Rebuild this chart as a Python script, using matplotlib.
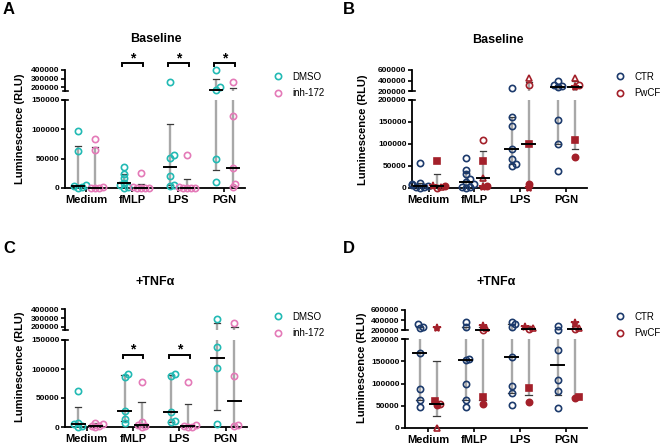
import numpy as np
import matplotlib
matplotlib.use('Agg')
import matplotlib.pyplot as plt
from matplotlib.lines import Line2D
from matplotlib.transforms import IdentityTransform

plt.rcParams['font.family'] = ['Liberation Sans', 'DejaVu Sans']
plt.rcParams['font.weight'] = 'bold'

W, H = 661, 446

groups = ['Medium', 'fMLP', 'LPS', 'PGN']

# Panel A: baseline, DMSO vs inh-172 (RLU)
a_dmso = [[97000, 62600, 5000, 3000, 1500, 800],
          [35000, 24000, 17500, 8000, 5000, 1000, 500],
          [265000, 56000, 51600, 20500, 5000, 4000],
          [395000, 200000, 169000, 49000, 10700]]
a_inh = [[83000, 65500, 1000, 600, 400, 200],
         [25000, 1000, 700, 500, 300, 100],
         [57000, 1000, 800, 500, 300, 200],
         [265000, 123000, 33500, 6300, 1000]]
a_sig = ['fMLP', 'LPS', 'PGN']

# Panel C: +TNFa, DMSO vs inh-172
c_dmso = [[62600, 7400, 5000, 2000, 500],
          [91000, 87000, 27600, 13800, 7400],
          [91000, 88000, 26500, 10000, 8500],
          [285000, 138000, 101000, 5000]]
c_inh = [[7000, 6000, 2000, 1000, 500],
         [77000, 8500, 3000, 1000, 500],
         [77000, 3000, 1500, 800, 300],
         [239000, 88000, 3000, 2000]]
c_sig = ['fMLP', 'LPS']

# Panel B: baseline, CTR vs PwCF
b_ctr = [[56000, 12000, 8000, 6000, 4000, 3000, 2000, 1000],
         [67500, 42000, 31000, 20000, 14000, 8000, 3000, 1500, 500],
         [251000, 162000, 142000, 88600, 65000, 54000, 50000],
         [400000, 314000, 295000, 280000, 155000, 100000, 39000]]
# PwCF donors, one marker each: open circle, square, filled circle, triangle, star
b_pwcf = [[0, 61000, 4500, 3000, 4000],
          [108000, 61000, 5000, 23000, 2000],
          [310000, 100000, 9000, 450000, 0],
          [320000, 109000, 70000, 445000, 270000]]

# Panel D: +TNFa, CTR vs PwCF
d_ctr = [[318000, 259000, 251000, 168000, 87000, 63000, 48000],
         [370000, 271000, 155000, 152000, 100000, 64000, 47000],
         [357000, 318000, 271000, 160000, 95000, 78000, 51000],
         [285000, 206000, 175000, 108000, 83000, 44000]]
d_pwcf = [[54000, 60000, 52000, 0, 240000],
          [210000, 70000, 55000, 250000, 290000],
          [220000, 89000, 58000, 240000, 271000],
          [220000, 70000, 68000, 251000, 338000]]

donor_markers = ['o', 's', 'o', '^', '*']
donor_filled = [False, True, True, False, True]

teal = '#22BAB4'
pink = '#E47AB8'
navy = '#1C3A6C'
red = '#A3202A'
bar_gray = '#A8A8A8'

fig = plt.figure(figsize=(W / 100, H / 100), dpi=100)


def rect(x0, x1, ytop, ybot):
    return [x0 / W, 1 - ybot / H, (x1 - x0) / W, (ybot - ytop) / H]


def make_panel(xs, low_px, up_px, low_lim, up_lim, low_ticks, up_ticks, xlim):
    ax_lo = fig.add_axes(rect(xs[0], xs[1], *low_px))
    ax_up = fig.add_axes(rect(xs[0], xs[1], *up_px))
    for ax in (ax_lo, ax_up):
        ax.set_xlim(xlim)
        ax.patch.set_alpha(0)
        ax.spines[['top', 'right']].set_visible(False)
        ax.spines['left'].set_linewidth(1.3)
        ax.tick_params(axis='y', length=3, width=1.2, pad=1, labelsize=6)
    ax_up.spines['bottom'].set_visible(False)
    ax_up.set_xticks([])
    ax_lo.spines['bottom'].set_linewidth(1.3)
    ax_lo.set_ylim(low_lim)
    ax_up.set_ylim(up_lim)
    ax_lo.set_yticks(low_ticks, [str(t) for t in low_ticks])
    ax_up.set_yticks(up_ticks, [str(t) for t in up_ticks])
    ax_lo.set_xticks(range(len(groups)), groups, fontsize=8)
    ax_lo.tick_params(axis='x', length=3, width=1.2, pad=2)
    # little stubs at the ends of the broken axis
    x0 = xs[0]
    for yy in (low_px[0], up_px[1]):
        fig.add_artist(Line2D([x0 - 2.5, x0 + 3], [H - yy, H - yy], color='black',
                              lw=1.2, transform=IdentityTransform()))
    return ax_lo, ax_up


def swarm(pick, xc, vals, ppu):
    placed = []
    offs = np.zeros(len(vals))
    for i in np.argsort(vals):
        y = pick(vals[i]).transData.transform((xc, vals[i]))[1]
        dx = 0.0
        for k in [0, 1, -1, 2, -2, 3, -3, 4, -4]:
            dx = k * 1.9
            if all((dx - px) ** 2 + (y - py) ** 2 >= 3.6 ** 2 for px, py in placed):
                break
        placed.append((dx, y))
        offs[i] = dx / ppu
    return offs


def draw_series(ax_lo, ax_up, split, xc, vals, color, markers=None, filled=None):
    vals = np.asarray(vals, dtype=float)
    n = len(vals)
    markers = markers or ['o'] * n
    filled = filled or [False] * n

    def pick(v):
        return ax_up if v > split else ax_lo

    q1, med, q3 = np.percentile(vals, [25, 50, 75], method='weibull')
    for ax in (ax_lo, ax_up):
        ax.plot([xc, xc], [q1, q3], color=bar_gray, lw=1.7, zorder=1,
                solid_capstyle='butt')
    for v in (q1, q3):
        pick(v).plot([xc - 0.07, xc + 0.07], [v, v], color='#3a3a3a', lw=0.9,
                     zorder=2, clip_on=False)
    pick(med).plot([xc - 0.14, xc + 0.14], [med, med], color='black', lw=1.4,
                   zorder=4, clip_on=False)

    ppu = ax_lo.transData.transform((1, 0))[0] - ax_lo.transData.transform((0, 0))[0]
    offs = swarm(pick, xc, vals, ppu)
    for v, dx, m, f in zip(vals, offs, markers, filled):
        ms = 6 if m == '*' else (4.2 if m in ('s', '^') else 4.5)
        pick(v).plot(xc + dx, v, marker=m, ms=ms, mec=color,
                     mfc=color if f else 'none', mew=1.2, ls='none',
                     clip_on=False, zorder=3)


def brackets(ax, sig, y, drop, star_y, half=0.22):
    for g in sig:
        i = groups.index(g)
        ax.plot([i - half, i - half, i + half, i + half], [y - drop, y, y, y - drop],
                color='black', lw=1.4, clip_on=False, solid_joinstyle='miter')
        ax.text(i, star_y, '*', ha='center', va='baseline', fontsize=10,
                clip_on=False)


def legend(x, y, colors, labels):
    handles = [Line2D([], [], marker='o', ls='none', mec=c, mfc='none', mew=1.2, ms=4.5)
               for c in colors]
    fig.legend(handles, labels, loc='center left', bbox_to_anchor=(x / W, 1 - y / H),
               frameon=False, prop={'size': 7, 'weight': 'normal'}, handlelength=1.0,
               handletextpad=1.0, labelspacing=0.65, borderpad=0, borderaxespad=0)


def labels(letter, lx, ly, title, tx, ty, ylx, yly):
    fig.text(lx / W, 1 - ly / H, letter, fontsize=12, ha='left', va='center')
    fig.text(tx / W, 1 - ty / H, title, fontsize=9, ha='center', va='center')
    fig.text(ylx / W, 1 - yly / H, 'Luminescence (RLU)', fontsize=8, rotation=90,
             ha='center', va='center')


off = 0.185

# ---- A ----
ax_lo, ax_up = make_panel((65, 245), (100, 188), (70, 90.7), (0, 150000), (160000, 400000),
                          [0, 50000, 100000, 150000], [200000, 300000, 400000], (-0.467, 3.446))
for i in range(4):
    draw_series(ax_lo, ax_up, 155000, i - off, a_dmso[i], teal)
    draw_series(ax_lo, ax_up, 155000, i + off, a_inh[i], pink)
brackets(ax_up, a_sig, 481000, 30000, 492000)
legend(273, 85, [teal, pink], ['DMSO', 'inh-172'])
labels('A', 3, 9, 'Baseline', 156, 39, 20, 129)

# ---- B ----
ax_lo, ax_up = make_panel((412, 587), (100, 188), (70, 91), (0, 200000), (200000, 600000),
                          [0, 50000, 100000, 150000, 200000], [200000, 400000, 600000],
                          (-0.36, 3.45))
for i in range(4):
    draw_series(ax_lo, ax_up, 200000, i - off, b_ctr[i], navy)
    draw_series(ax_lo, ax_up, 200000, i + off, b_pwcf[i], red, donor_markers, donor_filled)
legend(615, 85, [navy, red], ['CTR', 'PwCF'])
labels('B', 343, 9, 'Baseline', 498, 40, 363, 130)

# ---- C ----
ax_lo, ax_up = make_panel((65, 247), (340, 427), (309.3, 330.2), (0, 150000), (160000, 400000),
                          [0, 50000, 100000, 150000], [200000, 300000, 400000], (-0.47, 3.46))
for i in range(4):
    draw_series(ax_lo, ax_up, 155000, i - off, c_dmso[i], teal)
    draw_series(ax_lo, ax_up, 155000, i + off, c_inh[i], pink)
brackets(ax_lo, c_sig, 124000, 5000, 126000)
legend(273, 325, [teal, pink], ['DMSO', 'inh-172'])
labels('C', 3, 248, '+TNFα', 155, 282, 20, 367)

# ---- D ----
ax_lo, ax_up = make_panel((405, 587), (339, 428), (310, 330.3), (0, 200000), (200000, 600000),
                          [0, 50000, 100000, 150000, 200000], [200000, 400000, 600000],
                          (-0.5, 3.45))
for i in range(4):
    draw_series(ax_lo, ax_up, 200000, i - off, d_ctr[i], navy)
    draw_series(ax_lo, ax_up, 200000, i + off, d_pwcf[i], red, donor_markers, donor_filled)
legend(615, 325, [navy, red], ['CTR', 'PwCF'])
labels('D', 343, 248, '+TNFα', 496, 282, 362, 368)

fig.savefig('out.png', dpi=100)
